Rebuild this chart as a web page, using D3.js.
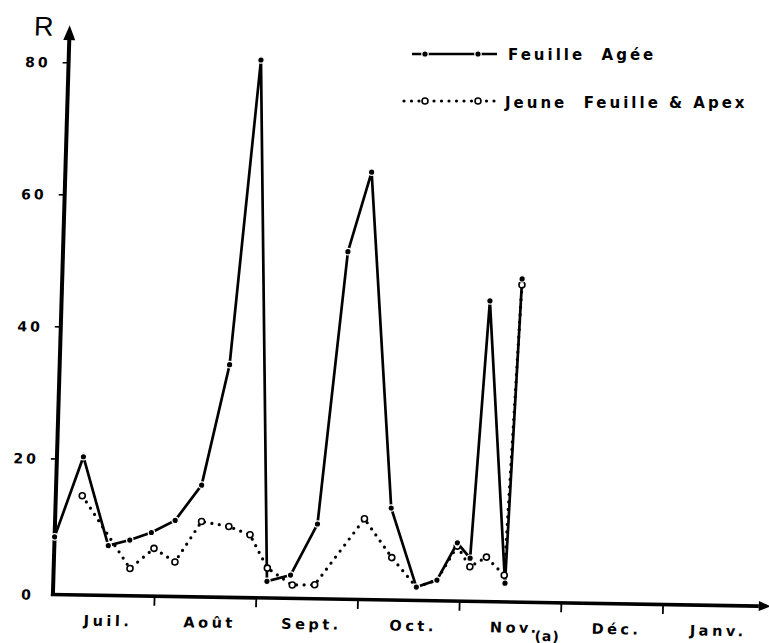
<!DOCTYPE html>
<html>
<head>
<meta charset="utf-8">
<script src="https://cdn.jsdelivr.net/npm/d3@7"></script>
<style>
  body { margin: 0; background: #fff; }
  svg { display: block; }
</style>
</head>
<body>
<svg id="chart" width="769" height="643"></svg>
<script>
// Months along the x axis; positions are in fractional months from the start of July.
const months = ['Juil.', 'Août', 'Sept.', 'Oct.', 'Nov.', 'Déc.', 'Janv.'];
const yTicks = [0, 20, 40, 60, 80];

// Feuille Agée
const agedMonth = [0, 0.26, 0.53, 0.74, 0.95, 1.18, 1.43, 1.67, 1.89, 2.10, 2.33, 2.58, 2.80, 3.01, 3.30, 3.57, 3.77, 3.96, 4.09, 4.21, 4.44, 4.52];
const agedR     = [8.2, 20.4, 7.0, 7.9, 9.1, 11.0, 16.4, 34.7, 80.9, 2.0, 3.0, 10.8, 52.1, 64.2, 13.4, 1.5, 2.6, 8.3, 6.0, 45.0, 2.3, 48.4];

// Jeune Feuille & Apex
const youngMonth = [0.26, 0.75, 0.98, 1.19, 1.44, 1.71, 1.92, 2.10, 2.35, 2.57, 3.04, 3.32, 3.57, 3.77, 3.96, 4.09, 4.25, 4.43, 4.52];
const youngR     = [14.5, 3.6, 6.7, 4.7, 10.9, 10.2, 9.0, 4.0, 1.5, 1.6, 11.7, 5.9, 1.5, 2.6, 7.8, 4.7, 6.2, 3.5, 47.5];

const FONT = '"DejaVu Sans", Verdana, sans-serif';
const svg = d3.select('#chart');

// The scanned figure is slightly tilted: rotate + skew around the origin.
const g = svg.append('g')
  .attr('transform', 'translate(53,591) rotate(0.94) skewX(-0.75)');

const x = d3.scaleLinear().domain([0, 7]).range([0, 712]);
const y = d3.scaleLinear().domain([0, 80]).range([0, -528.4]);

// --- axes ---
g.append('line')
  .attr('x1', -2).attr('y1', 3.5).attr('x2', 706).attr('y2', 3.5)
  .style('stroke', '#000').style('stroke-width', 3.6);
g.append('path')
  .attr('d', 'M706,-1.5 L718,3.5 L706,8.5 Z')
  .style('fill', '#000');

g.append('line')
  .attr('x1', 0).attr('y1', 5).attr('x2', 0).attr('y2', -552)
  .style('stroke', '#000').style('stroke-width', 4);
g.append('path')
  .attr('d', 'M-6,-551 L0,-566 L6,-551 Z')
  .style('fill', '#000');

g.append('text')
  .attr('x', -26).attr('y', -555)
  .attr('text-anchor', 'middle')
  .style('font-family', '"Liberation Sans", Arial, sans-serif')
  .style('font-size', '27px')
  .text('R');

// y ticks
yTicks.forEach(v => {
  if (v > 0) {
    g.append('line')
      .attr('x1', -6).attr('y1', y(v)).attr('x2', 0).attr('y2', y(v))
      .style('stroke', '#000').style('stroke-width', 1.6);
  }
  g.append('text')
    .attr('x', v === 0 ? -19 : -18).attr('y', (v === 0 ? 4 : y(v)) + 5)
    .attr('text-anchor', 'end')
    .style('font-family', FONT).style('font-size', '14px').style('font-weight', 'bold')
    .style('letter-spacing', '3px')
    .text(v);
});

// x ticks (month boundaries) and month labels
d3.range(1, 7).forEach(i => {
  g.append('line')
    .attr('x1', x(i)).attr('y1', 4).attr('x2', x(i)).attr('y2', 13)
    .style('stroke', '#000').style('stroke-width', 1.8);
});
months.forEach((m, i) => {
  g.append('text')
    .attr('x', x(i + 0.53) + 2).attr('y', 34)
    .attr('text-anchor', 'middle')
    .style('font-family', FONT).style('font-size', '14.5px').style('font-weight', 'bold')
    .style('letter-spacing', '3.5px')
    .text(m);
});
g.append('text')
  .attr('x', x(4.87)).attr('y', 42)
  .attr('text-anchor', 'middle')
  .style('font-family', FONT).style('font-size', '14px').style('font-weight', 'bold')
  .style('letter-spacing', '1px')
  .text('(a)');

// --- series ---
const aged = agedMonth.map((m, i) => [m, agedR[i]]);
const young = youngMonth.map((m, i) => [m, youngR[i]]);
const line = d3.line().x(d => x(d[0])).y(d => y(d[1]));

g.append('path')
  .attr('d', line(young))
  .style('fill', 'none').style('stroke', '#000')
  .style('stroke-width', 3.2).style('stroke-linecap', 'round')
  .style('stroke-dasharray', '0 7.5');

g.append('path')
  .attr('d', line(aged))
  .style('fill', 'none').style('stroke', '#000')
  .style('stroke-width', 2.7).style('stroke-linejoin', 'miter');

const agedKeys = new Set(aged.map(d => d.join()));
g.selectAll('circle.young')
  .data(young.filter(d => !agedKeys.has(d.join())))
  .join('circle')
  .attr('class', 'young')
  .attr('cx', d => x(d[0])).attr('cy', d => y(d[1]))
  .attr('r', 3)
  .style('fill', '#fff').style('stroke', '#000').style('stroke-width', 1.6);

g.selectAll('circle.aged')
  .data(aged)
  .join('circle')
  .attr('class', 'aged')
  .attr('cx', d => x(d[0])).attr('cy', d => y(d[1]))
  .attr('r', 3.2)
  .style('fill', '#000').style('stroke', '#fff').style('stroke-width', 1.2);

// --- legend ---
const legend = svg.append('g');
legend.append('line')
  .attr('x1', 412).attr('y1', 54).attr('x2', 497).attr('y2', 54)
  .style('stroke', '#000').style('stroke-width', 2.7);
[425, 478].forEach(cx => {
  legend.append('circle').attr('cx', cx).attr('cy', 54).attr('r', 3.2)
    .style('fill', '#000').style('stroke', '#fff').style('stroke-width', 1.2);
});
legend.append('line')
  .attr('x1', 404).attr('y1', 101).attr('x2', 497).attr('y2', 101)
  .style('stroke', '#000').style('stroke-width', 3.2)
  .style('stroke-linecap', 'round').style('stroke-dasharray', '0 7.5');
[425, 478].forEach(cx => {
  legend.append('circle').attr('cx', cx).attr('cy', 101).attr('r', 3)
    .style('fill', '#fff').style('stroke', '#000').style('stroke-width', 1.6);
});
legend.append('text')
  .attr('x', 508).attr('y', 60)
  .style('font-family', FONT).style('font-size', '15px').style('font-weight', 'bold')
  .style('letter-spacing', '3px').style('white-space', 'pre')
  .text('Feuille  Agée');
legend.append('text')
  .attr('x', 505).attr('y', 108)
  .style('font-family', FONT).style('font-size', '15px').style('font-weight', 'bold')
  .style('letter-spacing', '3px').style('white-space', 'pre')
  .text('Jeune  Feuille & Apex');
</script>
</body>
</html>
